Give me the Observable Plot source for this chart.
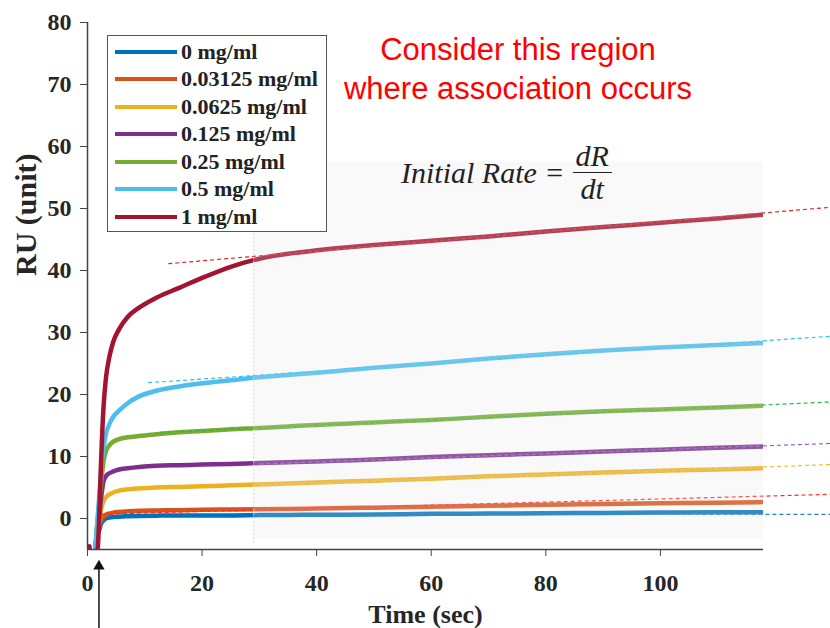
<!DOCTYPE html>
<html><head><meta charset="utf-8">
<script src="https://cdn.jsdelivr.net/npm/d3@7"></script>
<script src="https://cdn.jsdelivr.net/npm/@observablehq/plot@0.6"></script>
<style>
body{margin:0;background:#fff;}
#wrap{position:relative;width:830px;height:628px;overflow:hidden;}
#legend{position:absolute;left:107px;top:35px;width:218px;height:195px;border:1.5px solid #555;background:#fff;z-index:2;}
.lrow{position:absolute;left:0;height:27px;display:flex;align-items:center;}
.lline{width:62px;height:4px;margin-left:7px;margin-right:4px;}
.ltxt{font-family:"Liberation Serif",serif;font-weight:bold;font-size:22px;color:#222;white-space:nowrap;}
#note{position:absolute;left:318px;top:30px;width:400px;text-align:center;font-family:"Liberation Sans",Arial,sans-serif;font-size:31px;line-height:39px;color:#ff0000;z-index:2;}
#formula{position:absolute;left:401px;top:140px;display:flex;align-items:center;font-family:"Liberation Serif",serif;font-style:italic;font-size:30px;letter-spacing:0px;color:#222;z-index:2;}
.frac{display:inline-flex;flex-direction:column;align-items:center;margin-left:8px;line-height:32px;}
.frac .num{border-bottom:1.5px solid #222;padding:0 3px;}
</style></head><body><div id="wrap"></div>
<script>
const times = [0.3, 1.0, 1.6, 2.0, 2.4, 2.8, 3.2, 3.8, 4.5, 5.5, 7, 9, 12, 16, 20, 25, 30, 35, 40, 45, 50, 60, 70, 80, 90, 100, 110, 118];
const seriesNames = ["0 mg/ml", "0.03125 mg/ml", "0.0625 mg/ml", "0.125 mg/ml", "0.25 mg/ml", "0.5 mg/ml", "1 mg/ml"];
const seriesColors = ["#0072BD", "#D95319", "#EDB120", "#7E2F8E", "#77AC30", "#4DBEEE", "#A2142F"];
const ru_0       = [-4.5, -8, -3, -2, -0.8, -0.3, 0, 0.15, 0.25, 0.3, 0.35, 0.4, 0.45, 0.5, 0.5, 0.5, 0.55, 0.57, 0.6, 0.62, 0.65, 0.75, 0.8, 0.85, 0.9, 0.95, 1.0, 1.0];
const ru_003125  = [-4.5, -8, -3, -1.5, -0.2, 0.3, 0.6, 0.8, 0.95, 1.05, 1.15, 1.25, 1.3, 1.35, 1.4, 1.45, 1.5, 1.55, 1.6, 1.68, 1.75, 1.9, 2.05, 2.2, 2.35, 2.45, 2.55, 2.65];
const ru_00625   = [-4.5, -8, -3, -1, 1.5, 2.8, 3.4, 3.9, 4.2, 4.5, 4.7, 4.85, 5, 5.1, 5.2, 5.35, 5.5, 5.65, 5.8, 5.95, 6.1, 6.4, 6.8, 7.1, 7.4, 7.7, 7.9, 8.1];
const ru_0125    = [-4.5, -8, -3, 0, 3.5, 6, 6.8, 7.3, 7.6, 7.9, 8.1, 8.3, 8.5, 8.6, 8.7, 8.8, 8.95, 9.08, 9.2, 9.35, 9.5, 9.9, 10.2, 10.5, 10.8, 11.1, 11.4, 11.6];
const ru_025     = [-4.5, -8, -2, 2, 6, 9.2, 10.8, 11.8, 12.4, 12.8, 13.1, 13.3, 13.6, 13.9, 14.1, 14.4, 14.6, 14.85, 15.1, 15.3, 15.5, 15.9, 16.4, 16.9, 17.3, 17.6, 17.9, 18.2];
const ru_05      = [-4.5, -8, -2, 3, 8, 11.5, 13.6, 15.2, 16.4, 17.4, 18.6, 19.7, 20.6, 21.3, 21.8, 22.3, 22.8, 23.15, 23.5, 23.9, 24.3, 25, 25.8, 26.5, 27.1, 27.6, 28, 28.3];
const ru_1       = [-4.5, -9, -7, -1, 10, 18, 22.5, 26, 28.5, 30.5, 32.5, 34, 35.6, 37.2, 38.8, 40.6, 41.9, 42.7, 43.25, 43.7, 44.1, 44.8, 45.5, 46.3, 47, 47.7, 48.4, 49];
// Dashed initial-rate tangent lines (one per series)
const tangentColors = ["#2a7fd4", "#ff2a2a", "#f2c233", "#9060c0", "#2db34a", "#2cc3f2", "#e02828"];
const tangentT0 = [100, 2.5, 30, 30, 12.7, 10.6, 14.1];
const tangentV0 = [0.65, 0.7, 5.4, 8.8, 13.9, 21.9, 41.1];
const tangentT1 = [129.7, 129.7, 129.7, 129.7, 129.7, 129.7, 129.7];
const tangentV1 = [0.65, 3.9, 8.7, 12.1, 18.8, 29.4, 50.2];
// Region of interest (association phase)
const regionT = [29, 118];
const regionV = [-3.3, 57.5];
const injectionTime = 2;
const xTicks = [0, 20, 40, 60, 80, 100];
const yTicks = [0, 10, 20, 30, 40, 50, 60, 70, 80];

const allSeries = [ru_0, ru_003125, ru_00625, ru_0125, ru_025, ru_05, ru_1];
const rows = [];
allSeries.forEach((vals, i) => vals.forEach((v, j) => rows.push({t: times[j], v, s: seriesNames[i], c: seriesColors[i]})));
const tangents = seriesNames.map((s, i) => ({s, c: tangentColors[i], t0: tangentT0[i], v0: tangentV0[i], t1: tangentT1[i], v1: tangentV1[i]}));

const chart = Plot.plot({
  width: 830, height: 628,
  marginLeft: 87, marginRight: 67, marginTop: 22, marginBottom: 79,
  x: {domain: [0, 118]},
  y: {domain: [-5, 80]},
  style: {fontFamily: "Liberation Serif", fontSize: "24px", fontWeight: "bold", color: "#262626", background: "#fff"},
  marks: [
    Plot.line(rows, {x: "t", y: "v", z: "s", stroke: "c", strokeWidth: 4.5, clip: true, curve: "monotone-x"}),
    Plot.link(tangents, {x1: "t0", y1: "v0", x2: "t1", y2: "v1", stroke: "c", strokeWidth: 1.2, strokeDasharray: "4,3"}),
    Plot.rect([0], {x1: regionT[0], x2: regionT[1], y1: regionV[0], y2: regionV[1], fill: "#e4e4e4", fillOpacity: 0.22}),
    Plot.ruleX([regionT[0]], {y1: regionV[0] - 0.7, y2: regionV[1], stroke: "#d8d8d8", strokeWidth: 1, strokeDasharray: "2,2"}),
    Plot.axisX({ticks: xTicks, tickSize: 7, tickPadding: 17, label: null, stroke: "#444"}),
    Plot.axisY({ticks: yTicks, tickSize: 7, tickPadding: 9, label: null, stroke: "#444"}),
    Plot.ruleX([0], {stroke: "#444", strokeWidth: 1.5}),
    Plot.ruleY([-5], {stroke: "#444", strokeWidth: 1.5}),
    Plot.text(["Time (sec)"], {frameAnchor: "bottom", dy: 73, fontSize: 26, fontWeight: "bold", fill: "#262626"}),
    Plot.text(["RU (unit)"], {frameAnchor: "left", dx: -61, dy: -10, rotate: -90, fontSize: 30, fontWeight: "bold", fill: "#262626"}),
    Plot.ruleX([injectionTime], {y1: -7.7, y2: -18, stroke: "#111", strokeWidth: 1.5, clip: false}),
    Plot.dot([injectionTime], {x: d => d, y: -7.7, symbol: "triangle", r: 4.2, fill: "#111", stroke: "none"})
  ]
});

const wrap = document.getElementById("wrap");
wrap.appendChild(chart);

const legend = document.createElement("div");
legend.id = "legend";
seriesNames.forEach((s, i) => {
  const row = document.createElement("div");
  row.className = "lrow";
  row.style.top = (2 + i * 27.5) + "px";
  row.innerHTML = `<div class="lline" style="background:${seriesColors[i]}"></div><span class="ltxt">${s}</span>`;
  legend.appendChild(row);
});
wrap.appendChild(legend);

const note = document.createElement("div");
note.id = "note";
note.innerHTML = "Consider this region<br>where association occurs";
wrap.appendChild(note);

const formula = document.createElement("div");
formula.id = "formula";
formula.innerHTML = `<span>Initial Rate&nbsp;=</span><span class="frac"><span class="num">dR</span><span>dt</span></span>`;
wrap.appendChild(formula);
</script></body></html>
